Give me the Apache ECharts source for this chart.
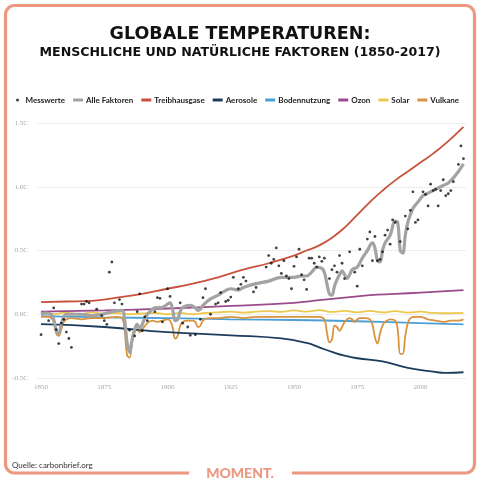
<!DOCTYPE html>
<html><head><meta charset="utf-8">
<script src="https://cdn.jsdelivr.net/npm/echarts@6/dist/echarts.min.js"></script>
<style>html,body{margin:0;padding:0;background:#fff}#c{width:480px;height:480px}</style>
</head><body><div id="c"></div>
<script>
// ---- Data ----
const xTickYears = [1850, 1875, 1900, 1925, 1950, 1975, 2000];
const yTicks = [-0.5, 0.0, 0.5, 1.0, 1.5];

const messwerte = [
 [1850,-0.16],[1853,-0.05],[1855,0.05],[1856,-0.12],[1857,-0.23],[1858,-0.07],[1859,-0.04],[1860,-0.14],
 [1861,-0.19],[1862,-0.26],[1866,0.08],[1867,0.08],[1868,0.10],[1869,0.09],[1872,0.04],[1874,-0.01],
 [1875,-0.05],[1876,-0.08],[1877,0.33],[1878,0.41],[1879,0.09],[1881,0.115],[1882,0.08],[1885,-0.125],
 [1887,-0.17],[1888,0.02],[1889,0.16],[1890,-0.13],[1891,-0.02],[1892,-0.05],[1895,0.02],[1896,0.13],
 [1897,0.125],[1898,-0.06],[1900,0.20],[1901,0.14],[1905,0.09],[1906,-0.07],[1908,-0.10],[1909,-0.165],
 [1911,-0.16],[1913,-0.04],[1914,0.13],[1915,0.20],[1917,0.0],[1919,0.08],[1920,0.09],[1921,0.17],
 [1923,0.10],[1924,0.11],[1925,0.135],[1926,0.29],[1928,0.20],[1929,0.235],[1930,0.29],[1931,0.26],
 [1934,0.175],[1935,0.21],[1939,0.37],[1940,0.46],[1941,0.40],[1942,0.43],[1943,0.52],[1944,0.38],
 [1945,0.32],[1946,0.42],[1947,0.30],[1948,0.28],[1949,0.20],[1950,0.376],[1951,0.45],[1952,0.51],
 [1953,0.31],[1954,0.27],[1955,0.195],[1956,0.44],[1957,0.44],[1958,0.40],[1959,0.37],[1960,0.45],
 [1961,0.415],[1962,0.44],[1964,0.28],[1965,0.35],[1966,0.38],[1967,0.33],[1968,0.46],[1969,0.40],
 [1970,0.28],[1972,0.49],[1974,0.33],[1975,0.22],[1976,0.51],[1977,0.38],[1979,0.59],[1980,0.645],
 [1981,0.42],[1982,0.61],[1983,0.42],[1984,0.43],[1985,0.49],[1986,0.62],[1987,0.66],[1988,0.55],
 [1989,0.74],[1990,0.72],[1992,0.57],[1994,0.77],[1995,0.67],[1996,0.815],[1997,0.96],[1998,0.72],
 [1999,0.74],[2001,0.96],[2002,0.94],[2003,0.85],[2004,1.02],[2005,0.97],[2006,0.98],[2007,0.85],
 [2008,0.97],[2009,1.055],[2010,0.93],[2011,0.945],[2012,0.97],[2013,1.04],[2015,1.175],[2016,1.32],[2017,1.22]
];

const alleFaktoren = [
 [1850,0.0],[1852,0.01],[1854,0.0],[1855,-0.04],[1856,-0.13],[1857,-0.15],[1858,-0.08],[1859,-0.02],
 [1860,0.0],[1863,0.0],[1866,0.0],[1870,-0.01],[1874,0.0],[1878,0.02],[1882,0.03],[1883,-0.04],
 [1884,-0.22],[1885,-0.30],[1886,-0.20],[1887,-0.12],[1888,-0.08],[1889,-0.11],[1890,-0.08],[1891,-0.03],
 [1893,0.02],[1895,0.05],[1898,0.055],[1900,0.08],[1901,0.09],[1902,0.04],[1903,-0.05],[1904,-0.04],
 [1905,0.02],[1906,0.055],[1909,0.07],[1911,0.05],[1912,0.03],[1913,0.04],[1914,0.07],[1917,0.12],
 [1920,0.15],[1922,0.175],[1925,0.20],[1928,0.19],[1930,0.21],[1935,0.24],[1940,0.26],[1945,0.29],
 [1950,0.29],[1953,0.30],[1955,0.30],[1957,0.33],[1959,0.37],[1961,0.36],[1962,0.33],[1963,0.24],
 [1964,0.16],[1965,0.15],[1966,0.22],[1967,0.27],[1968,0.31],[1969,0.34],[1970,0.31],[1971,0.28],
 [1972,0.31],[1973,0.35],[1975,0.37],[1977,0.44],[1979,0.50],[1981,0.56],[1982,0.52],[1983,0.42],
 [1984,0.41],[1985,0.50],[1986,0.56],[1988,0.62],[1990,0.73],[1991,0.72],[1992,0.50],[1993,0.48],
 [1994,0.62],[1995,0.72],[1997,0.83],[1999,0.88],[2001,0.93],[2003,0.95],[2005,0.97],[2007,0.99],
 [2009,1.01],[2011,1.03],[2013,1.07],[2015,1.12],[2017,1.18]
];

const treibhausgase = [
 [1850,0.095],[1860,0.10],[1870,0.105],[1880,0.13],[1890,0.16],[1900,0.20],[1910,0.24],[1920,0.29],
 [1930,0.35],[1940,0.40],[1950,0.46],[1955,0.50],[1960,0.54],[1965,0.60],[1970,0.68],[1975,0.78],
 [1980,0.88],[1985,0.97],[1990,1.05],[1995,1.12],[2000,1.19],[2005,1.26],[2010,1.34],[2017,1.47]
];

const aerosole = [
 [1850,-0.078],[1875,-0.10],[1900,-0.14],[1925,-0.165],[1945,-0.19],[1955,-0.225],[1960,-0.26],
 [1965,-0.295],[1970,-0.325],[1975,-0.345],[1985,-0.37],[1995,-0.42],[2005,-0.45],[2010,-0.46],[2017,-0.455]
];

const bodennutzung = [
 [1850,-0.015],[1875,-0.025],[1900,-0.03],[1925,-0.04],[1950,-0.045],[1975,-0.055],[2000,-0.07],[2017,-0.08]
];

const ozon = [
 [1850,0.02],[1875,0.03],[1900,0.045],[1925,0.065],[1950,0.09],[1960,0.11],[1970,0.13],
 [1980,0.15],[1990,0.16],[2000,0.17],[2017,0.19]
];

const solar = [
 [1850,0.01],[1855,0.0],[1860,0.012],[1865,0.0],[1870,0.015],[1875,0.004],[1880,0.01],[1885,0.0],
 [1890,0.006],[1895,0.01],[1900,0.0],[1905,0.01],[1910,0.0],[1915,0.01],[1920,0.015],[1925,0.02],
 [1930,0.012],[1935,0.02],[1940,0.025],[1945,0.018],[1950,0.03],[1955,0.02],[1960,0.032],[1965,0.018],
 [1970,0.026],[1975,0.014],[1980,0.026],[1985,0.014],[1990,0.025],[1995,0.013],[2000,0.02],[2005,0.01],
 [2010,0.008],[2017,0.01]
];

const vulkane = [
 [1850,-0.02],[1853,-0.02],[1855,-0.06],[1856,-0.15],[1857,-0.17],[1858,-0.12],[1859,-0.06],[1860,-0.04],
 [1862,-0.03],[1866,-0.04],[1870,-0.03],[1875,-0.03],[1880,-0.02],[1882,-0.03],[1883,-0.12],[1884,-0.32],
 [1885,-0.34],[1886,-0.22],[1887,-0.14],[1888,-0.12],[1889,-0.14],[1890,-0.12],[1892,-0.07],[1894,-0.05],
 [1896,-0.06],[1898,-0.05],[1900,-0.04],[1901,-0.05],[1902,-0.10],[1903,-0.19],[1904,-0.17],[1905,-0.09],
 [1906,-0.06],[1908,-0.05],[1910,-0.05],[1911,-0.06],[1912,-0.10],[1913,-0.09],[1914,-0.05],[1916,-0.03],
 [1920,-0.03],[1925,-0.02],[1930,-0.03],[1935,-0.02],[1940,-0.02],[1945,-0.02],[1950,-0.02],[1955,-0.02],
 [1960,-0.02],[1962,-0.04],[1963,-0.14],[1964,-0.22],[1965,-0.20],[1966,-0.09],[1967,-0.10],[1968,-0.13],
 [1969,-0.10],[1970,-0.06],[1971,-0.04],[1972,-0.03],[1973,-0.04],[1974,-0.06],[1975,-0.04],[1976,-0.03],
 [1978,-0.03],[1980,-0.04],[1981,-0.08],[1982,-0.18],[1983,-0.23],[1984,-0.15],[1985,-0.09],[1986,-0.06],
 [1988,-0.04],[1990,-0.05],[1991,-0.12],[1992,-0.31],[1993,-0.31],[1994,-0.17],[1995,-0.07],[1996,-0.03],
 [1998,-0.02],[2000,-0.02],[2003,-0.04],[2006,-0.05],[2009,-0.06],[2012,-0.05],[2015,-0.05],[2017,-0.04]
];

const legendNames = ['Messwerte','Alle Faktoren','Treibhausgase','Aerosole','Bodennutzung','Ozon','Solar','Vulkane'];
const colors = {
  'Messwerte':'#111111','Alle Faktoren':'#a3a3a3','Treibhausgase':'#c8523b','Aerosole':'#1c3c5e',
  'Bodennutzung':'#4a9fd6','Ozon':'#9b4b8c','Solar':'#ebc94e','Vulkane':'#d9923d'
};

// ---- Chart ----
const chart = echarts.init(document.getElementById('c'), null, {renderer:'canvas'});
const FONT = 'Lato, "Noto Sans", sans-serif';
const TITLE_FONT = '"DejaVu Sans", sans-serif';
const frameColor = '#ec9780';

function lineSeries(name, data, width, smooth){
  return {name, type:'line', data, showSymbol:false, smooth: smooth,
    lineStyle:{color:colors[name], width}, itemStyle:{color:colors[name]}, silent:true, z:2};
}

chart.setOption({
  backgroundColor:'#ffffff',
  animation:false,
  title:{
    text:'GLOBALE TEMPERATUREN:',
    subtext:'MENSCHLICHE UND NATÜRLICHE FAKTOREN (1850-2017)',
    left:'center', top:20, itemGap:3,
    textStyle:{fontFamily:TITLE_FONT, fontSize:17.5, fontWeight:'bold', color:'#111'},
    subtextStyle:{fontFamily:TITLE_FONT, fontSize:12.6, fontWeight:'bold', color:'#111'}
  },
  legend:{
    data: legendNames.map(n => ({name:n, icon: n==='Messwerte' ? 'circle' : 'rect'})),
    left:11, top:91, itemWidth:10, itemHeight:3, itemGap:8,
    textStyle:{fontFamily:FONT, fontSize:8, fontWeight:'bold', color:'#222', padding:[0,0,0,-2]},
    selectedMode:false
  },
  grid:{left:37, right:14, top:123, bottom:102},
  xAxis:{
    type:'value', min:1848.4, max:2018,
    axisLine:{show:false}, axisTick:{show:false}, splitLine:{show:false},
    axisLabel:{customValues:xTickYears, formatter: v => String(Math.round(v)),
      color:'#a8a8a8', fontFamily:'"Liberation Serif", serif', fontSize:7, margin:6}
  },
  yAxis:{
    type:'value', min:-0.5, max:1.5, interval:0.5,
    axisLine:{show:false}, axisTick:{show:false},
    splitLine:{lineStyle:{color:'#ececec', width:1}},
    axisLabel:{formatter: v => v.toFixed(1)+'C', color:'#a8a8a8', fontFamily:'"Liberation Serif", serif', fontSize:7, margin:9}
  },
  series:[
    lineSeries('Bodennutzung', bodennutzung, 1.8, true),
    lineSeries('Solar', solar, 1.8, 0.5),
    lineSeries('Vulkane', vulkane, 1.8, 0.4),
    lineSeries('Ozon', ozon, 1.8, true),
    lineSeries('Aerosole', aerosole, 1.8, true),
    lineSeries('Treibhausgase', treibhausgase, 1.8, true),
    lineSeries('Alle Faktoren', alleFaktoren, 3.2, 0.4),
    {name:'Messwerte', type:'scatter', data:messwerte, symbolSize:2.8,
     itemStyle:{color:colors['Messwerte']}, silent:true, z:5}
  ],
  graphic:[
    {type:'rect', shape:{x:5.5, y:5.5, width:469, height:467.5, r:9},
     style:{fill:'none', stroke:frameColor, lineWidth:3.2}, z:100, silent:true},
    {type:'rect', shape:{x:189, y:466, width:103, height:12},
     style:{fill:'#ffffff'}, z:101, silent:true},
    {type:'text', x:240, y:473, z:102, silent:true,
     style:{text:'MOMENT.', fill:frameColor, font:'900 14px '+FONT, align:'center', verticalAlign:'middle'}},
    {type:'text', x:12, y:465, z:102, silent:true,
     style:{text:'Quelle: carbonbrief.org', fill:'#333', font:'8px '+FONT, align:'left', verticalAlign:'middle'}}
  ]
});
</script>
</body></html>
